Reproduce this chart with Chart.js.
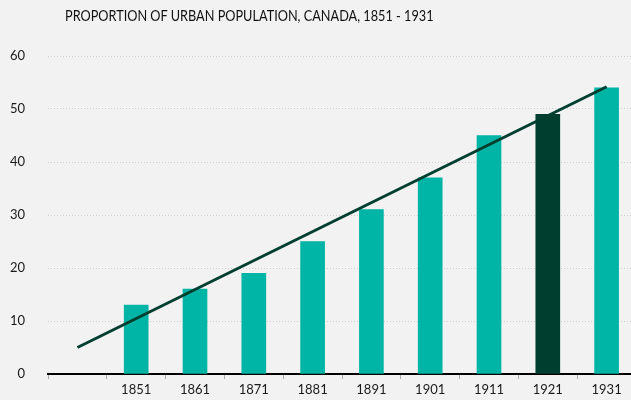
<!DOCTYPE html>
<html>
<head>
<meta charset="utf-8">
<script src="https://cdn.jsdelivr.net/npm/chart.js@4"></script>
<style>
  html, body { margin:0; padding:0; background:#f2f2f2; overflow:hidden; }
  #wrap { position:relative; width:636px; height:400px; }
  #title { position:absolute; left:65px; top:6px; font:15.5px Lato, 'Noto Sans', sans-serif; color:#111; white-space:nowrap;
           transform:scaleX(0.82); transform-origin:0 0; }
</style>
</head>
<body>
<div id="wrap">
  <div id="title">PROPORTION OF URBAN POPULATION, CANADA, 1851 - 1931</div>
  <canvas id="chart" width="636" height="400"></canvas>
</div>
<script>
// census years (first slot left empty, the trend line starts there)
const years = ['', '1851', '1861', '1871', '1881', '1891', '1901', '1911', '1921', '1931']
const urbanPct = [null, 13, 16, 19, 25, 31, 37, 45, 49, 54]
const trend = [5, null, null, null, null, null, null, null, null, 54.2]
const highlightYear = '1921'

const TEAL = '#00b5a5'
const DARK = '#003f2f'

const ctx = document.getElementById('chart').getContext('2d')
new Chart(ctx, {
  type: 'bar',
  data: {
    labels: years,
    datasets: [
      {type:'line', data: trend, spanGaps:true, borderColor: DARK, borderWidth:3, pointRadius:0, order:0},
      {data: urbanPct, backgroundColor: years.map(y=> y===highlightYear? DARK: TEAL), barThickness:24, order:1}
    ]
  },
  options: {
    responsive:false, animation:false,
    layout: { padding: {top:56, right:0, left:0, bottom:0} },
    plugins: { legend:{display:false}, tooltip:{enabled:false}, title:{display:false} },
    scales: {
      x: {
        grid: { display:true, drawOnChartArea:false, drawTicks:true, tickLength:5, color:'#aaa', offset:true },
        border: { display:true, color:'#000', width:2 },
        ticks: { color:'#1a1a1a', font:{family:'Lato', size:13}, padding:3 },
        afterFit: s=> { s.height = 26 }
      },
      y: {
        min:0, max:60,
        ticks: { stepSize:10, color:'#1a1a1a', font:{family:'Lato', size:13}, padding:23 },
        grid: { drawTicks:false, color: c=> c.tick.value===0? 'rgba(0,0,0,0)': '#cfcfcf', lineWidth:1 },
        border: { display:false, dash:[1,2] },
        // fixed width, and drop the label overhang padding so the plot reaches the x axis
        afterFit: s=> { s.width = 48; s.paddingTop = 0; s.paddingBottom = 0 }
      }
    }
  }
})
</script>
</body>
</html>
